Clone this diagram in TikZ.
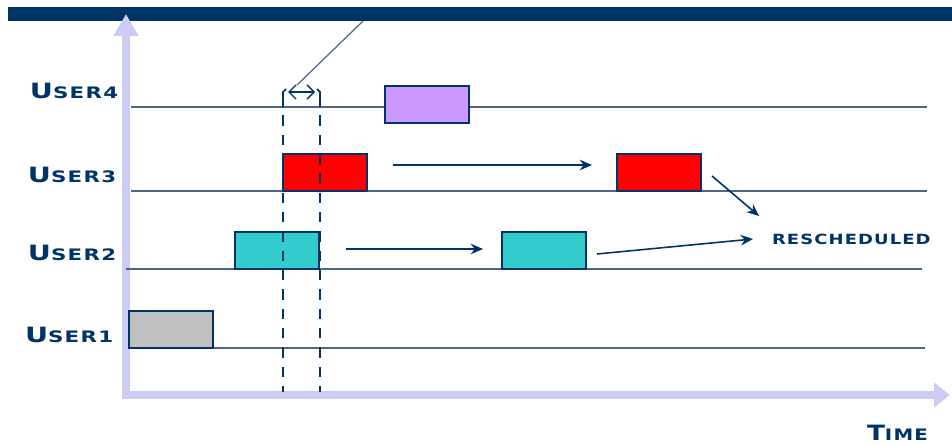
\documentclass[tikz,border=0pt]{standalone}
\usepackage{fontspec}
\usepackage{graphicx}
\usepackage{tikz}
\usetikzlibrary{arrows.meta}
\newfontfamily\capfont[LetterSpace=6]{DejaVu Sans}
\definecolor{navy}{HTML}{003366}
\definecolor{axisblue}{HTML}{CCCCF5}
\definecolor{lineblue}{HTML}{4F6882}
\definecolor{slotpurple}{HTML}{CC99FF}
\definecolor{slotred}{HTML}{FF0000}
\definecolor{slotcyan}{HTML}{33CCCC}
\definecolor{slotgray}{HTML}{C0C0C0}
\newcommand{\username}[1]{\scalebox{1.35}[1]{\capfont\bfseries\large U\small SER#1}}

\begin{document}
\begin{tikzpicture}[x=0.02cm, y=-0.02cm,
  every node/.style={inner sep=0pt, outer sep=0pt},
  slot/.style={draw=navy, thick, minimum width=1.68cm, minimum height=0.74cm, anchor=south west},
  lane/.style={draw=lineblue, line width=1.3pt},
  userlbl/.style={anchor=base west, text=navy},
  guide/.style={draw=navy, line width=1.3pt, dash pattern=on 6pt off 5pt},
  move/.style={draw=navy, line width=0.9pt, -{Stealth[length=7pt, width=6pt]}}]
\useasboundingbox (0,0) rectangle (952,445);
\fill[navy] (8,7) rectangle (952,21);

% axes
\coordinate (ytop) at (126,14);
\coordinate (orig) at (126,395);
\coordinate (xend) at (950,395);
\draw[axisblue, line width=4.5pt, line join=miter,
  {Triangle[length=12.5pt, width=13.6pt]}-{Triangle[length=9pt, width=13.6pt]}] (ytop) -- (orig) -- (xend);

% lanes
\coordinate (l4a) at (131,107); \coordinate (l4b) at (927,107);
\coordinate (l3a) at (131,191); \coordinate (l3b) at (927,191);
\coordinate (l2a) at (126,269); \coordinate (l2b) at (922,269);
\coordinate (l1a) at (130,348); \coordinate (l1b) at (925,348);
\draw[lane] (l4a) -- (l4b);
\draw[lane] (l3a) -- (l3b);
\draw[lane] (l2a) -- (l2b);
\draw[lane] (l1a) -- (l1b);

\node[userlbl] (u4) at (30,99) {\username{4}};
\node[userlbl] (u3) at (28,183) {\username{3}};
\node[userlbl] (u2) at (28,261) {\username{2}};
\node[userlbl] (u1) at (25,342) {\username{1}};

% time slots
\node[slot, fill=slotpurple] (p1) at (385,123) {};
\node[slot, fill=slotred] (r1) at (283,191) {};
\node[slot, fill=slotred] (r2) at (617,191) {};
\node[slot, fill=slotcyan] (c1) at (235,269) {};
\node[slot, fill=slotcyan] (c2) at (502,269) {};
\node[slot, fill=slotgray] (g1) at (129,348) {};

% guard interval
\coordinate (ga) at (283,96); \coordinate (gb) at (283,392);
\coordinate (ha) at (320,96); \coordinate (hb) at (320,392);
\draw[guide] (ga) -- (gb);
\draw[guide] (ha) -- (hb);
\draw[navy, line width=1pt] (ga) -- ++(0,-4) -- ++(3,-3);
\draw[navy, line width=1pt] (ha) -- ++(0,-4) -- ++(-3,-3);
\coordinate (gl) at (288,92); \coordinate (gr) at (315,92);
\draw[navy, line width=0.8pt, {Straight Barb[length=4pt]}-{Straight Barb[length=4pt]}] (gl) -- (gr);
\coordinate (pa) at (297,85); \coordinate (pb) at (363,21);
\draw[lineblue, line width=0.7pt] (pa) -- (pb);

% moves
\coordinate (m3a) at (393,165); \coordinate (m3b) at (592,165);
\coordinate (m2a) at (346,249); \coordinate (m2b) at (483,249);
\draw[move] (m3a) -- (m3b);
\draw[move] (m2a) -- (m2b);

\node[anchor=base west, text=navy] (resch) at (772,245) {\scalebox{1.28}[1]{\capfont\bfseries\footnotesize RESCHEDULED}};
\coordinate (n3a) at (712,176); \coordinate (n3b) at (759,216);
\coordinate (n2a) at (597,254); \coordinate (n2b) at (753,239);
\draw[move] (n3a) -- (n3b);
\draw[move] (n2a) -- (n2b);

\node[anchor=base west, text=navy] (time) at (867,440) {\scalebox{1.25}[1]{\capfont\bfseries\large T\small IME}};
\end{tikzpicture}
\end{document}
